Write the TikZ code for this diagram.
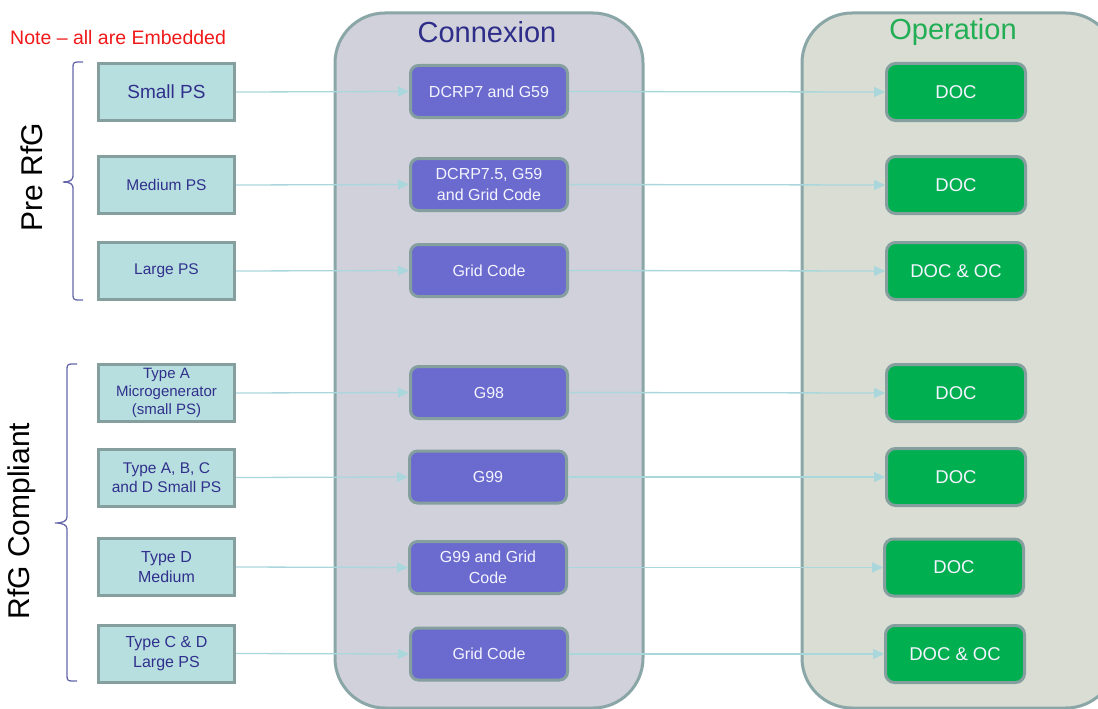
\documentclass[tikz,border=0pt]{standalone}
\usepackage{fontspec}
\setmainfont{Liberation Sans}
\usetikzlibrary{arrows.meta}
\definecolor{srcfill}{HTML}{B8DFE0}
\definecolor{boxedge}{HTML}{859F9F}
\definecolor{srctext}{HTML}{30308C}
\definecolor{conxfill}{HTML}{6B6BCF}
\definecolor{opfill}{HTML}{00AF50}
\definecolor{conxbg}{HTML}{D1D1DB}
\definecolor{opbg}{HTML}{D9DDD3}
\definecolor{panel}{HTML}{8AA6A6}
\definecolor{link}{HTML}{A9D7DB}
\definecolor{bracecol}{HTML}{6666AA}
\definecolor{boxtext}{HTML}{F4F4FF}
\definecolor{conxtitle}{HTML}{2E2E8A}
\definecolor{optitle}{HTML}{22AE55}
\definecolor{notered}{HTML}{F01818}
\begin{document}
\begin{tikzpicture}[x=1pt,y=-1pt,
  srcbox/.style={draw=boxedge, line width=3pt, fill=srcfill, text=srctext,
    minimum width=136pt, minimum height=57pt, align=center,
    font=\fontsize{15.5}{18.5}\selectfont, inner sep=0pt},
  conxbox/.style={draw=boxedge, line width=3pt, fill=conxfill, text=boxtext,
    rounded corners=8pt, minimum width=157pt, minimum height=52pt, align=center,
    font=\fontsize{16}{21}\selectfont, inner sep=0pt},
  opbox/.style={draw=boxedge, line width=3pt, fill=opfill, text=boxtext,
    rounded corners=9pt, minimum width=139pt, minimum height=57pt, align=center,
    font=\fontsize{18.5}{22}\selectfont, inner sep=0pt},
  panelbox/.style={draw=panel, line width=3pt, rounded corners=50pt},
  link/.style={draw=link, line width=1.3pt,
    -{Triangle[length=11pt,width=10pt,fill=link]}},
  bracket/.style={draw=bracecol, line width=1.3pt},
  sidelabel/.style={rotate=90, font=\fontsize{30}{30}\selectfont, text=black}
]
\useasboundingbox (0,0) rectangle (1098,709);
\clip (0,0) rectangle (1098,709);

% background panels
\draw[panelbox, fill=conxbg] (335,13) rectangle (643,708);
\draw[panelbox, fill=opbg] (802,13) rectangle (1116,708);
\node[text=conxtitle, font=\fontsize{29}{29}\selectfont] (ctitle) at (487,32) {Connexion};
\node[text=optitle, font=\fontsize{29}{29}\selectfont] (otitle) at (953,32) {Operation};

% note
\node[anchor=west, text=notered, font=\fontsize{19.5}{19.5}\selectfont, inner sep=0pt] (note) at (10,38) {Note – all are Embedded};

% group labels and brackets
\node[sidelabel] (pre) at (32,177) {Pre RfG};
\node[sidelabel] (comp) at (22,521) {RfG Compliant};
\draw[bracket] (83,62) -- (78,62) .. controls (74,62) and (73,63) .. (73,67)
  -- (73,176) .. controls (73,180) and (70,182) .. (63,182)
  .. controls (70,182) and (73,184) .. (73,188)
  -- (73,295) .. controls (73,299) and (74,300) .. (78,300) -- (83,300);
\draw[bracket] (77,364) -- (72,364) .. controls (68,364) and (67,365) .. (67,369)
  -- (67,517) .. controls (67,521) and (63,523) .. (55,523)
  .. controls (63,523) and (67,525) .. (67,529)
  -- (67,676) .. controls (67,680) and (68,681) .. (72,681) -- (77,681);

% plant sizes
\node[srcbox, font=\fontsize{19}{22}\selectfont] (s1) at (166.5,92) {Small PS};
\node[srcbox] (s2) at (166.5,185) {Medium PS};
\node[srcbox] (s3) at (166.5,271) {Large PS};
\node[srcbox, font=\fontsize{15}{18}\selectfont] (s4) at (166.5,393) {Type A\\Microgenerator\\(small PS)};
\node[srcbox, font=\fontsize{15.5}{19}\selectfont] (s5) at (166.5,477.5) {Type A, B, C\\and D Small PS};
\node[srcbox, font=\fontsize{16}{20}\selectfont] (s6) at (166.5,567) {Type D\\Medium};
\node[srcbox, font=\fontsize{16}{20}\selectfont] (s7) at (166.5,653.5) {Type C \& D\\Large PS};

% connexion requirements
\node[conxbox] (c1) at (489,91.5) {DCRP7 and G59};
\node[conxbox] (c2) at (489,184.5) {DCRP7.5, G59\\and Grid Code};
\node[conxbox] (c3) at (489,270.5) {Grid Code};
\node[conxbox] (c4) at (489,392.5) {G98};
\node[conxbox] (c5) at (488,477) {G99};
\node[conxbox] (c6) at (488,567.5) {G99 and Grid\\Code};
\node[conxbox] (c7) at (489,654) {Grid Code};

% operation requirements
\node[opbox] (o1) at (956,92) {DOC};
\node[opbox] (o2) at (956,185) {DOC};
\node[opbox] (o3) at (956,271) {DOC \& OC};
\node[opbox] (o4) at (956,393) {DOC};
\node[opbox] (o5) at (956,477) {DOC};
\node[opbox] (o6) at (954,567.5) {DOC};
\node[opbox] (o7) at (955,654) {DOC \& OC};

% links
\foreach \i in {1,...,7} {
  \draw[link] (s\i.east) -- (c\i.west);
  \draw[link] (c\i.east) -- (o\i.west);
}
\end{tikzpicture}
\end{document}
